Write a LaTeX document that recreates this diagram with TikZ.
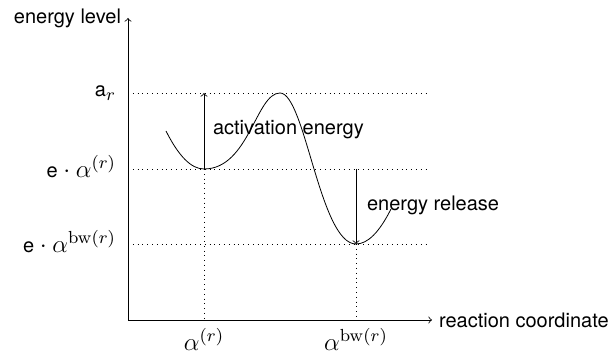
\RequirePackage{fix-cm}
\documentclass[tikz,border=0pt]{standalone}
\usepackage[no-math]{fontspec}
\setmainfont{TeX Gyre Heros}
\newcommand\mth[1]{{\fontsize{12.5}{15}\selectfont$#1$}}
\begin{document}
\begin{tikzpicture}[x=0.5pt,y=-0.5pt,
  guide/.style={dotted},
  axisline/.style={->},
  lvl/.style={anchor=base east},
  xlbl/.style={anchor=base},
  curve/.style={line width=0.4pt}]
\useasboundingbox (0,0) rectangle (612,356);
% axes
\coordinate (O) at (128,320);
\coordinate (ytop) at (128,18);
\coordinate (xend) at (432,320);
\draw[axisline] (O) -- (ytop);
\draw[axisline] (O) -- (xend);
\node[anchor=east] (ylab) at (ytop) {energy level};
\node[anchor=west] (xlab) at (xend) {reaction coordinate};
% level coordinates
\coordinate (La) at (128,93);
\coordinate (Le) at (128,169);
\coordinate (Lb) at (128,244);
\coordinate (Ra) at (430,93);
\coordinate (Re) at (430,169);
\coordinate (Rb) at (430,244);
\draw[guide] (La) -- (Ra);
\draw[guide] (Le) -- (Re);
\draw[guide] (Lb) -- (Rb);
\node[lvl] (la) at (123,97) {a\mth{_r}};
\node[lvl] (le) at (123,178) {e \mth{\cdot} \mth{\alpha^{(r)}}};
\node[lvl] (lb) at (123,253) {e \mth{\cdot} \mth{\alpha^{\mathrm{bw}(r)}}};
% curve points
\coordinate (c0) at (166,131);
\coordinate (m1) at (204,169);
\coordinate (top) at (280,93);
\coordinate (m2) at (356,244);
\coordinate (c4) at (391,209);
\coordinate (b1) at (204,320);
\coordinate (b2) at (356,320);
\coordinate (a1) at (204,93);
\coordinate (r1) at (356,169);
\draw[guide] (m1) -- (b1);
\draw[guide] (m2) -- (b2);
\node[xlbl] (xa) at (204,351) {\mth{\alpha^{(r)}}};
\node[xlbl] (xb) at (356,351) {\mth{\alpha^{\mathrm{bw}(r)}}};
\draw[curve] (c0) .. controls (178.7,156.3) and (191.3,169) .. (m1)
  .. controls (249,169) and (256,93) .. (top)
  .. controls (305,93) and (320,244) .. (m2)
  .. controls (367.7,244) and (379.3,232.3) .. (c4);
\draw[->] (m1) -- (a1);
\draw[->] (r1) -- (m2);
\node[anchor=west] (act) at (206,130) {activation energy};
\node[anchor=west] (rel) at (360,205) {energy release};
\end{tikzpicture}
\end{document}
